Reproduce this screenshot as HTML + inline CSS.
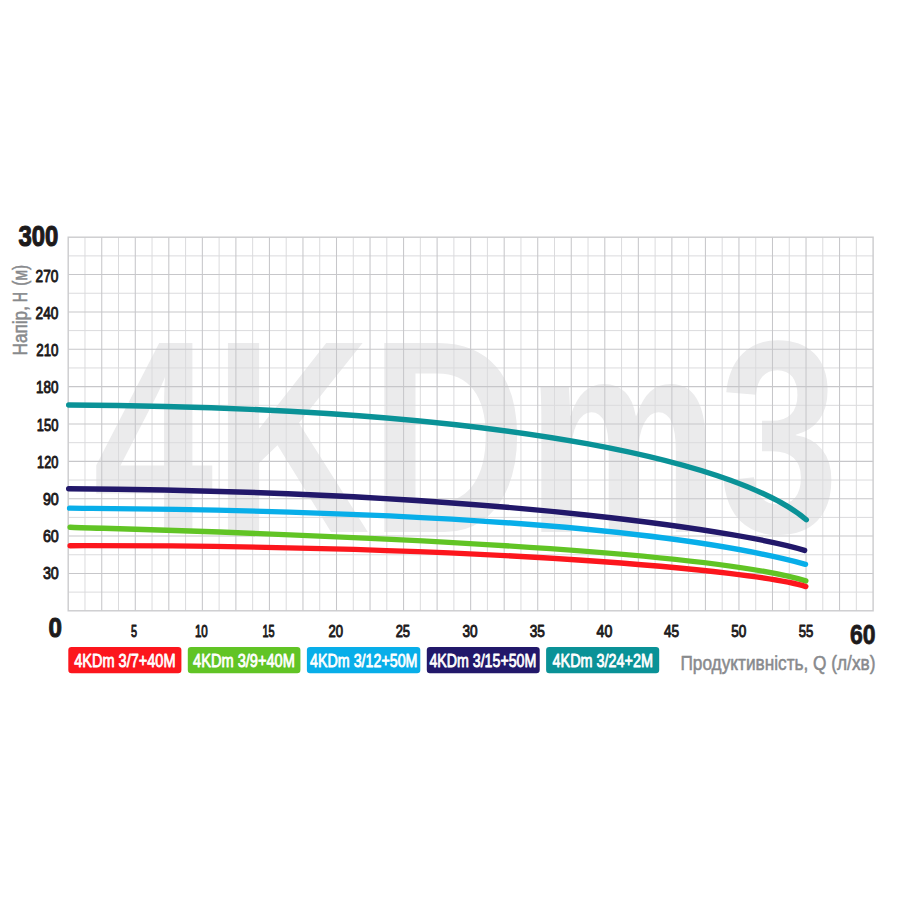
<!DOCTYPE html>
<html lang="uk"><head><meta charset="utf-8"><title>4KDm3</title>
<style>
html,body{margin:0;padding:0;background:#fff;}
body{width:900px;height:900px;overflow:hidden;}
svg{display:block;font-family:"Liberation Sans",sans-serif;}
</style></head><body>
<svg width="900" height="900" viewBox="0 0 900 900">
<rect width="900" height="900" fill="#ffffff"/>
<text transform="translate(93 532) scale(1.083 1.374)" font-family="Liberation Sans, sans-serif" font-size="200" font-weight="bold" fill="#ebebec" textLength="689" lengthAdjust="spacingAndGlyphs">4KDm3</text>
<path d="M84.97 237.20V610.80M118.51 237.20V610.80M152.04 237.20V610.80M185.58 237.20V610.80M219.12 237.20V610.80M252.66 237.20V610.80M286.19 237.20V610.80M319.73 237.20V610.80M353.27 237.20V610.80M386.81 237.20V610.80M420.34 237.20V610.80M453.88 237.20V610.80M487.42 237.20V610.80M520.96 237.20V610.80M554.49 237.20V610.80M588.03 237.20V610.80M621.57 237.20V610.80M655.11 237.20V610.80M688.64 237.20V610.80M722.18 237.20V610.80M755.72 237.20V610.80M789.26 237.20V610.80M822.79 237.20V610.80M856.33 237.20V610.80M68.20 255.88H873.10M68.20 293.24H873.10M68.20 330.60H873.10M68.20 367.96H873.10M68.20 405.32H873.10M68.20 442.68H873.10M68.20 480.04H873.10M68.20 517.40H873.10M68.20 554.76H873.10M68.20 592.12H873.10" stroke="#dbdbdd" stroke-width="1" fill="none"/>
<path d="M101.74 237.20V610.80M135.28 237.20V610.80M168.81 237.20V610.80M202.35 237.20V610.80M235.89 237.20V610.80M269.43 237.20V610.80M302.96 237.20V610.80M336.50 237.20V610.80M370.04 237.20V610.80M403.57 237.20V610.80M437.11 237.20V610.80M470.65 237.20V610.80M504.19 237.20V610.80M537.73 237.20V610.80M571.26 237.20V610.80M604.80 237.20V610.80M638.34 237.20V610.80M671.88 237.20V610.80M705.41 237.20V610.80M738.95 237.20V610.80M772.49 237.20V610.80M806.03 237.20V610.80M839.56 237.20V610.80M68.20 274.56H873.10M68.20 311.92H873.10M68.20 349.28H873.10M68.20 386.64H873.10M68.20 424.00H873.10M68.20 461.36H873.10M68.20 498.72H873.10M68.20 536.08H873.10M68.20 573.44H873.10" stroke="#c7c7ca" stroke-width="1.05" fill="none"/>
<rect x="68.20" y="237.20" width="804.90" height="373.60" fill="none" stroke="#cbcbce" stroke-width="1.4"/>
<path d="M68.70 405.00C531.36 407.63 745.48 467.89 806.30 519.73" stroke="#0a9297" stroke-width="5.4" stroke-linecap="round" fill="none"/>
<path d="M68.70 488.69C517.02 491.99 755.00 534.88 804.60 550.37" stroke="#22186a" stroke-width="5.4" stroke-linecap="round" fill="none"/>
<path d="M69.60 508.13C120.00 509.03 597.18 508.06 805.50 564.29" stroke="#08aee9" stroke-width="5.4" stroke-linecap="round" fill="none"/>
<path d="M70.10 527.18C120.00 529.23 678.68 541.94 805.80 580.91" stroke="#61c425" stroke-width="5.4" stroke-linecap="round" fill="none"/>
<path d="M70.10 545.68C495.06 545.10 755.00 570.73 805.80 586.55" stroke="#fc161d" stroke-width="5.4" stroke-linecap="round" fill="none"/>
<text transform="translate(18.40 246.00) scale(0.1195 0.1486)" font-size="200" font-weight="bold" fill="#1d1a1b" stroke="#1d1a1b" stroke-width="1.0" stroke-linejoin="round" vector-effect="non-scaling-stroke">300</text>
<text transform="translate(35.62 281.88) scale(0.0684 0.0811)" font-size="200" font-weight="normal" fill="#1d1a1b" stroke="#1d1a1b" stroke-width="0.85" stroke-linejoin="round" vector-effect="non-scaling-stroke">270</text>
<text transform="translate(35.62 319.07) scale(0.0684 0.0811)" font-size="200" font-weight="normal" fill="#1d1a1b" stroke="#1d1a1b" stroke-width="0.85" stroke-linejoin="round" vector-effect="non-scaling-stroke">240</text>
<text transform="translate(36.23 356.27) scale(0.0666 0.0811)" font-size="200" font-weight="normal" fill="#1d1a1b" stroke="#1d1a1b" stroke-width="0.85" stroke-linejoin="round" vector-effect="non-scaling-stroke">210</text>
<text transform="translate(36.12 393.48) scale(0.0669 0.0811)" font-size="200" font-weight="normal" fill="#1d1a1b" stroke="#1d1a1b" stroke-width="0.85" stroke-linejoin="round" vector-effect="non-scaling-stroke">180</text>
<text transform="translate(36.83 430.68) scale(0.0648 0.0811)" font-size="200" font-weight="normal" fill="#1d1a1b" stroke="#1d1a1b" stroke-width="0.85" stroke-linejoin="round" vector-effect="non-scaling-stroke">150</text>
<text transform="translate(37.12 467.88) scale(0.0639 0.0811)" font-size="200" font-weight="normal" fill="#1d1a1b" stroke="#1d1a1b" stroke-width="0.85" stroke-linejoin="round" vector-effect="non-scaling-stroke">120</text>
<text transform="translate(42.88 505.08) scale(0.0714 0.0811)" font-size="200" font-weight="normal" fill="#1d1a1b" stroke="#1d1a1b" stroke-width="0.85" stroke-linejoin="round" vector-effect="non-scaling-stroke">90</text>
<text transform="translate(42.88 542.28) scale(0.0714 0.0811)" font-size="200" font-weight="normal" fill="#1d1a1b" stroke="#1d1a1b" stroke-width="0.85" stroke-linejoin="round" vector-effect="non-scaling-stroke">60</text>
<text transform="translate(42.88 579.48) scale(0.0714 0.0811)" font-size="200" font-weight="normal" fill="#1d1a1b" stroke="#1d1a1b" stroke-width="0.85" stroke-linejoin="round" vector-effect="non-scaling-stroke">30</text>
<text transform="translate(48.40 637.10) scale(0.1207 0.1421)" font-size="200" font-weight="bold" fill="#1d1a1b" stroke="#1d1a1b" stroke-width="1.0" stroke-linejoin="round" vector-effect="non-scaling-stroke">0</text>
<text transform="translate(131.09 637.08) scale(0.0545 0.0830)" font-size="200" font-weight="normal" fill="#1d1a1b" stroke="#1d1a1b" stroke-width="0.85" stroke-linejoin="round" vector-effect="non-scaling-stroke">5</text>
<text transform="translate(194.88 637.08) scale(0.0579 0.0818)" font-size="200" font-weight="normal" fill="#1d1a1b" stroke="#1d1a1b" stroke-width="0.85" stroke-linejoin="round" vector-effect="non-scaling-stroke">10</text>
<text transform="translate(262.41 637.08) scale(0.0547 0.0830)" font-size="200" font-weight="normal" fill="#1d1a1b" stroke="#1d1a1b" stroke-width="0.85" stroke-linejoin="round" vector-effect="non-scaling-stroke">15</text>
<text transform="translate(328.40 637.08) scale(0.0655 0.0818)" font-size="200" font-weight="normal" fill="#1d1a1b" stroke="#1d1a1b" stroke-width="0.85" stroke-linejoin="round" vector-effect="non-scaling-stroke">20</text>
<text transform="translate(395.68 637.08) scale(0.0646 0.0818)" font-size="200" font-weight="normal" fill="#1d1a1b" stroke="#1d1a1b" stroke-width="0.85" stroke-linejoin="round" vector-effect="non-scaling-stroke">25</text>
<text transform="translate(462.51 637.08) scale(0.0678 0.0818)" font-size="200" font-weight="normal" fill="#1d1a1b" stroke="#1d1a1b" stroke-width="0.85" stroke-linejoin="round" vector-effect="non-scaling-stroke">30</text>
<text transform="translate(529.65 637.08) scale(0.0682 0.0818)" font-size="200" font-weight="normal" fill="#1d1a1b" stroke="#1d1a1b" stroke-width="0.85" stroke-linejoin="round" vector-effect="non-scaling-stroke">35</text>
<text transform="translate(596.54 637.08) scale(0.0709 0.0818)" font-size="200" font-weight="normal" fill="#1d1a1b" stroke="#1d1a1b" stroke-width="0.85" stroke-linejoin="round" vector-effect="non-scaling-stroke">40</text>
<text transform="translate(664.02 637.08) scale(0.0682 0.0830)" font-size="200" font-weight="normal" fill="#1d1a1b" stroke="#1d1a1b" stroke-width="0.85" stroke-linejoin="round" vector-effect="non-scaling-stroke">45</text>
<text transform="translate(731.25 637.08) scale(0.0678 0.0818)" font-size="200" font-weight="normal" fill="#1d1a1b" stroke="#1d1a1b" stroke-width="0.85" stroke-linejoin="round" vector-effect="non-scaling-stroke">50</text>
<text transform="translate(798.69 637.08) scale(0.0655 0.0830)" font-size="200" font-weight="normal" fill="#1d1a1b" stroke="#1d1a1b" stroke-width="0.85" stroke-linejoin="round" vector-effect="non-scaling-stroke">55</text>
<text transform="translate(849.95 644.15) scale(0.1149 0.1350)" font-size="200" font-weight="bold" fill="#1d1a1b" stroke="#1d1a1b" stroke-width="0.7" stroke-linejoin="round" vector-effect="non-scaling-stroke">60</text>
<rect x="68.3" y="646.9" width="113.1" height="26.4" rx="3.2" fill="#fc161d"/>
<text transform="translate(74.18 666.52) scale(0.0727 0.0924)" font-size="200" font-weight="normal" fill="#ffffff" stroke="#ffffff" stroke-width="0.75" stroke-linejoin="round" vector-effect="non-scaling-stroke">4KDm 3/7+40M</text>
<rect x="187.8" y="646.9" width="112.6" height="26.4" rx="3.2" fill="#61c425"/>
<text transform="translate(193.08 666.52) scale(0.0730 0.0924)" font-size="200" font-weight="normal" fill="#ffffff" stroke="#ffffff" stroke-width="0.75" stroke-linejoin="round" vector-effect="non-scaling-stroke">4KDm 3/9+40M</text>
<rect x="306.9" y="646.9" width="113.4" height="26.4" rx="3.2" fill="#08aee9"/>
<text transform="translate(310.07 666.52) scale(0.0713 0.0924)" font-size="200" font-weight="normal" fill="#ffffff" stroke="#ffffff" stroke-width="0.75" stroke-linejoin="round" vector-effect="non-scaling-stroke">4KDm 3/12+50M</text>
<rect x="426.8" y="646.9" width="112.9" height="26.4" rx="3.2" fill="#22186a"/>
<text transform="translate(429.47 666.52) scale(0.0709 0.0924)" font-size="200" font-weight="normal" fill="#ffffff" stroke="#ffffff" stroke-width="0.75" stroke-linejoin="round" vector-effect="non-scaling-stroke">4KDm 3/15+50M</text>
<rect x="546.1" y="646.9" width="113.1" height="26.4" rx="3.2" fill="#0a9297"/>
<text transform="translate(552.57 666.52) scale(0.0720 0.0924)" font-size="200" font-weight="normal" fill="#ffffff" stroke="#ffffff" stroke-width="0.75" stroke-linejoin="round" vector-effect="non-scaling-stroke">4KDm 3/24+2M</text>
<text transform="translate(680.45 670.25) scale(0.0862 0.1014)" font-size="200" font-weight="normal" fill="#888a8d" stroke="#888a8d" stroke-width="0.5" stroke-linejoin="round" vector-effect="non-scaling-stroke">Продуктивність, Q (л/хв)</text>
<text transform="translate(26.75 355.45) rotate(-90) scale(0.0859 0.1014)" font-size="200" fill="#888a8d" stroke="#888a8d" stroke-width="0.5" vector-effect="non-scaling-stroke">Напір,</text>
<text transform="translate(26.75 302.15) rotate(-90) scale(0.0701 0.1014)" font-size="200" fill="#888a8d" stroke="#888a8d" stroke-width="0.5" vector-effect="non-scaling-stroke">H</text>
<text transform="translate(26.75 285.65) rotate(-90) scale(0.0764 0.1014)" font-size="200" fill="#888a8d" stroke="#888a8d" stroke-width="0.5" vector-effect="non-scaling-stroke">(м)</text>
</svg>
</body></html>
